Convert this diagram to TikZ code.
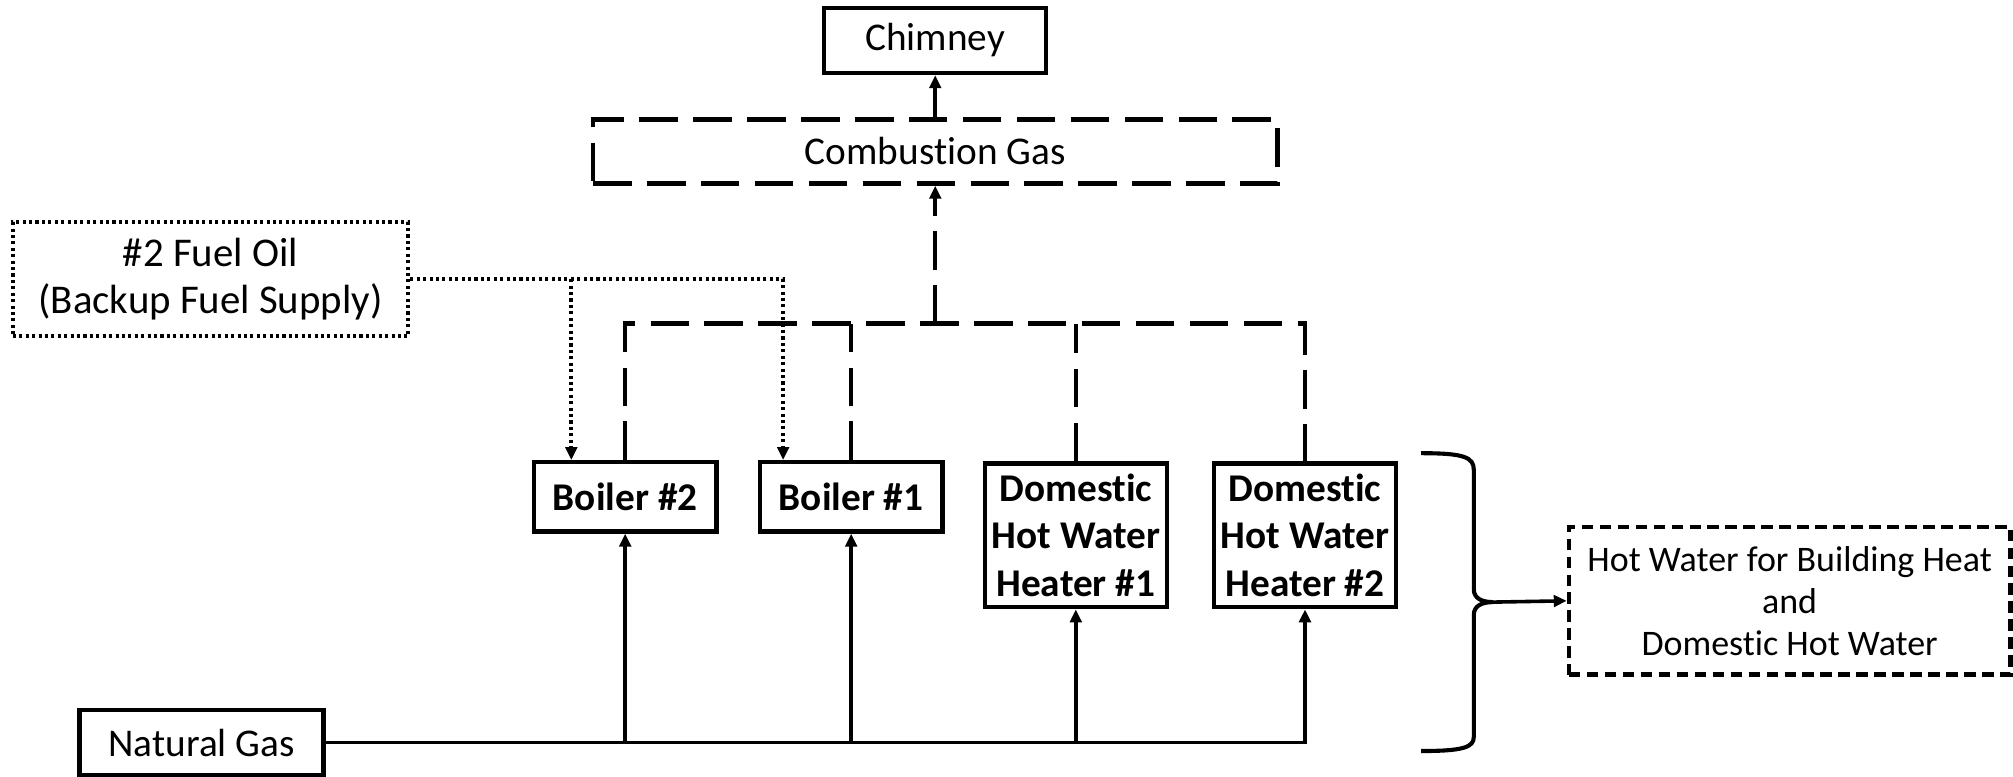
\documentclass[tikz,border=0pt]{standalone}
\usepackage{fontspec}
\setmainfont{Carlito}[Ligatures={NoCommon}]
\usetikzlibrary{positioning,arrows.meta}

\begin{document}
\begin{tikzpicture}[x=0.5pt,y=-0.5pt,
  every node/.style={font=\fontsize{15.3}{18.4}\selectfont},
  block/.style={draw,line width=1.7pt,inner sep=0pt,align=center},
  unit/.style={block,font=\fontsize{15.3}{18.4}\selectfont\bfseries,minimum width=71pt},
  flow/.style={line width=1.4pt,-{Triangle[length=5pt,width=4.5pt]}},
  exhaust/.style={line width=1.6pt,dash pattern=on 15pt off 6pt},
  oil/.style={line width=1.6pt,dash pattern=on 1.2pt off 1.3pt}]
\useasboundingbox (0,0) rectangle (1568,605);

% sources and outlets
\node[block,minimum width=86.5pt,minimum height=25.5pt] (chimney) at (728.5,31.5) {Chimney};
\node[block,dash pattern=on 15pt off 6pt,minimum width=266.5pt,minimum height=25pt] (combgas) at (728.5,118) {Combustion Gas};
\node[block,oil,minimum width=154pt,minimum height=44.5pt,font=\fontsize{15.9}{18.6}\selectfont] (fueloil) at (164,217.5) {\#2 Fuel Oil\\(Backup Fuel Supply)};
\node[block,minimum width=95pt,minimum height=25.5pt] (natgas) at (157,578.5) {Natural Gas};
\node[block,dash pattern=on 4.5pt off 2.5pt,minimum width=172pt,minimum height=57.5pt,font=\fontsize{14}{16.4}\selectfont] (hotwater) at (1394,468) {Hot Water for Building Heat\\and\\Domestic Hot Water};

% boilers and heaters
\node[unit,minimum height=27pt] (boiler2) at (487,387) {Boiler \#2};
\node[unit,minimum height=27pt] (boiler1) at (663,387) {Boiler \#1};
\node[unit,minimum height=56pt] (dhw1) at (838,417) {Domestic\\Hot Water\\Heater \#1};
\node[unit,minimum height=56pt] (dhw2) at (1016.5,417) {Domestic\\Hot Water\\Heater \#2};

% combustion gas
\coordinate (hdr) at (728.5,252);
\draw[flow] (combgas) -- (chimney);
\draw[exhaust] (boiler2.north) |- (hdr) -| (dhw2.north);
\draw[exhaust] (boiler1.north) -- (boiler1.north |- hdr);
\draw[exhaust] (dhw1.north) -- (dhw1.north |- hdr);
\draw[flow,exhaust] (hdr) -- (combgas.south);

% fuel oil
\coordinate (oil2) at ([xshift=-21pt]boiler2.north);
\coordinate (oil1) at ([xshift=-26.5pt]boiler1.north);
\draw[flow,oil] (fueloil.east) -| (oil1);
\draw[flow,oil] (fueloil.east -| oil2) -- (oil2);

% natural gas
\draw[flow] (natgas.east) -| (dhw2.south);
\foreach \n in {boiler2,boiler1,dhw1}
  \draw[flow] (natgas.east -| \n.south) -- (\n.south);

% brace
\coordinate (tip) at (1163,469);
\draw[line width=1.6pt] (1107,353) .. controls (1140,353) and (1148,356) .. (1148,366) -- (1148,459)
  .. controls (1148,466) and (1154,469) .. (tip) .. controls (1154,469) and (1148,472) .. (1148,479)
  -- (1148,574) .. controls (1148,582) and (1140,585) .. (1107,585);
\draw[flow] (tip) -- (hotwater.west);
\end{tikzpicture}
\end{document}
